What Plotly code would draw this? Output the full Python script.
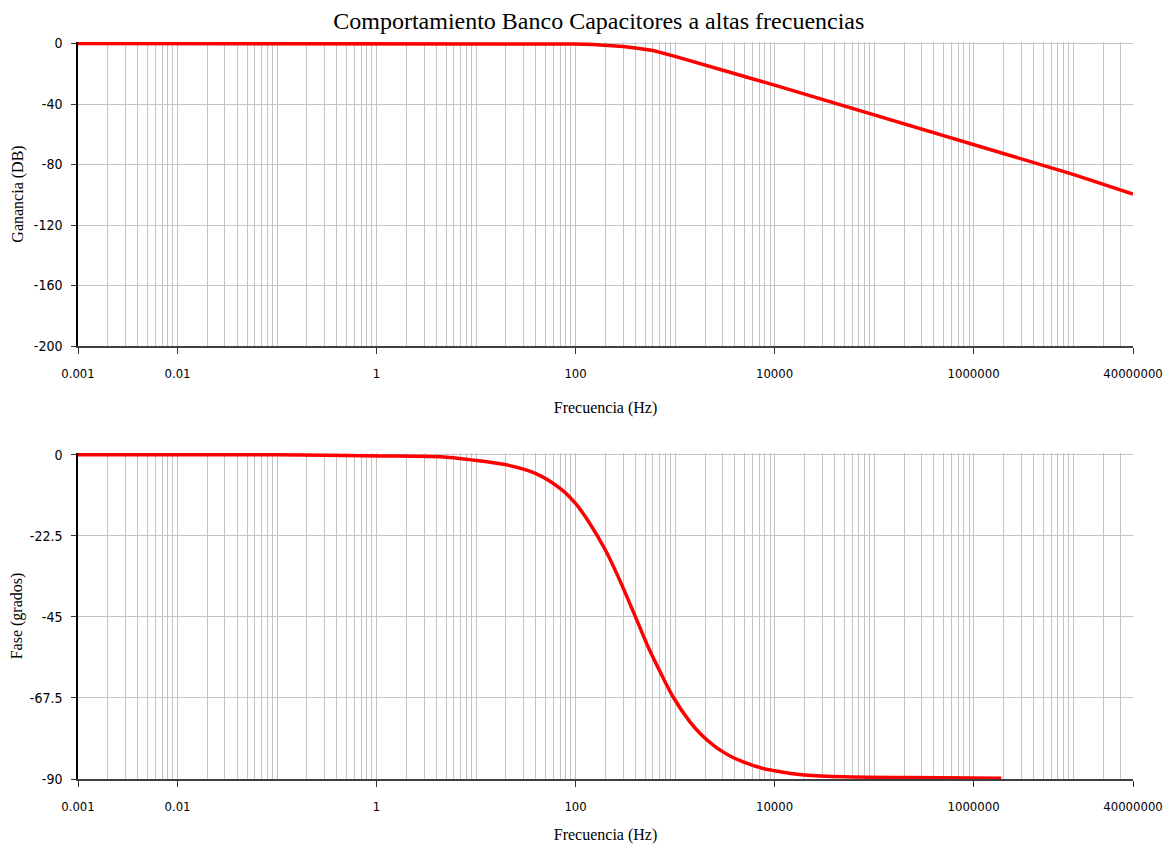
import plotly.graph_objects as go
from plotly.subplots import make_subplots

# Gain (dB) readings
gain_freq = [0.001, 0.01, 0.1, 1, 10, 100, 150, 200, 300, 400, 600, 1000, 2000, 4000,
             10000, 100000, 1000000, 10000000, 40000000]
gain_db = [0, 0, 0, 0, 0, -0.3, -0.6, -1.0, -2.0, -3.0, -4.6, -8.5, -14.0, -20.0,
           -27.5, -47.0, -66.5, -86.5, -99.5]

# Phase (degrees) readings
phase_freq = [0.001, 0.01, 0.1, 1.1, 4.4, 9, 19.5, 40, 73, 100, 135, 200, 280, 400, 550, 730, 960,
              1400, 1850, 2400, 3000, 4000, 5500, 7500, 10000, 14000, 20000, 50000, 220000, 1900000]
phase_deg = [0, 0, 0, -0.3, -0.55, -1.4, -2.7, -5.2, -9.7, -13.5, -18.5, -26.5, -35, -45, -54, -61, -67.3,
             -74, -77.8, -80.5, -82.4, -84.3, -85.8, -87.0, -87.7, -88.4, -88.9, -89.4, -89.6, -89.8]

x_tickvals = [0.001, 0.01, 1, 100, 10000, 1000000, 40000000]
x_ticktext = ["0.001", "0.01", "1", "100", "10000", "1000000", "40000000"]
gain_ticks = [0, -40, -80, -120, -160, -200]
gain_ticktext = ["0", "-40", "-80", "-120", "-160", "-200"]
phase_ticks = [0, -22.5, -45, -67.5, -90]
phase_ticktext = ["0", "-22.5", "-45", "-67.5", "-90"]

title_text = "Comportamiento Banco Capacitores a altas frecuencias"
x_title = "Frecuencia (Hz)"
gain_title = "Ganancia (DB)"
phase_title = "Fase (grados)"

minor_vals = [k * 10 ** n for n in range(-3, 8) for k in range(1, 10) if k * 10 ** n <= 40000000]

SERIF = "Liberation Serif, Times New Roman, serif"
SANS = "Liberation Sans Narrow, Arial Narrow, DejaVu Sans Condensed, sans-serif"
GRID = "#c4c4c4"

fig = make_subplots(rows=2, cols=1, vertical_spacing=0.145)

fig.add_trace(go.Scatter(x=gain_freq, y=gain_db, mode="lines",
                         line=dict(color="#ff0000", width=3.5), showlegend=False), row=1, col=1)
fig.add_trace(go.Scatter(x=phase_freq, y=phase_deg, mode="lines", line_shape="spline",
                         line=dict(color="#ff0000", width=3.5, smoothing=0.8), showlegend=False), row=2, col=1)

xaxis_common = dict(
    type="log", range=[-3, 7.60206], tickvals=x_tickvals, ticktext=x_ticktext,
    showgrid=True, gridcolor=GRID, gridwidth=1, automargin=False, ticklabeloverflow="allow",
    ticks="outside", ticklen=6, tickcolor="#333", showline=True, linecolor="#404040", linewidth=1.5,
    tickfont=dict(family=SANS, size=13, color="#000"), zeroline=False, ticklabelstandoff=9,
    minor=dict(tickvals=minor_vals, showgrid=True, gridcolor=GRID, gridwidth=1, ticks=""),
    title=dict(text=x_title, font=dict(family=SERIF, size=16, color="#000"), standoff=21),
)

fig.update_xaxes(**xaxis_common, row=1, col=1)
fig.update_xaxes(**xaxis_common, row=2, col=1)

yaxis_common = dict(
    showgrid=True, gridcolor=GRID, gridwidth=1, zeroline=False, automargin=False,
    ticks="outside", ticklen=5, tickcolor="#333", showline=True, linecolor="#000", linewidth=1.5,
    tickfont=dict(family=SANS, size=14, color="#000"), ticklabelstandoff=6,
)
fig.update_yaxes(**yaxis_common, range=[-200, 1], tickvals=gain_ticks, ticktext=gain_ticktext,
                 title=dict(text=gain_title, font=dict(family=SERIF, size=16, color="#000"), standoff=6),
                 row=1, col=1)
fig.update_yaxes(**yaxis_common, range=[-90, 0.5], tickvals=phase_ticks, ticktext=phase_ticktext,
                 title=dict(text=phase_title, font=dict(family=SERIF, size=16, color="#000"), standoff=6),
                 row=2, col=1)

fig.update_layout(
    width=1163, height=836,
    margin=dict(l=70, r=38, t=34, b=65),
    paper_bgcolor="white", plot_bgcolor="white",
    title=dict(text=title_text, x=0.508, xanchor="center", y=0.995, yanchor="top",
               font=dict(family=SERIF, size=24, color="#000")),
)
fig.layout.yaxis.domain = [0.5875, 1.0]
fig.layout.yaxis2.domain = [0.0, 0.4423]

fig.write_html("out.html")
